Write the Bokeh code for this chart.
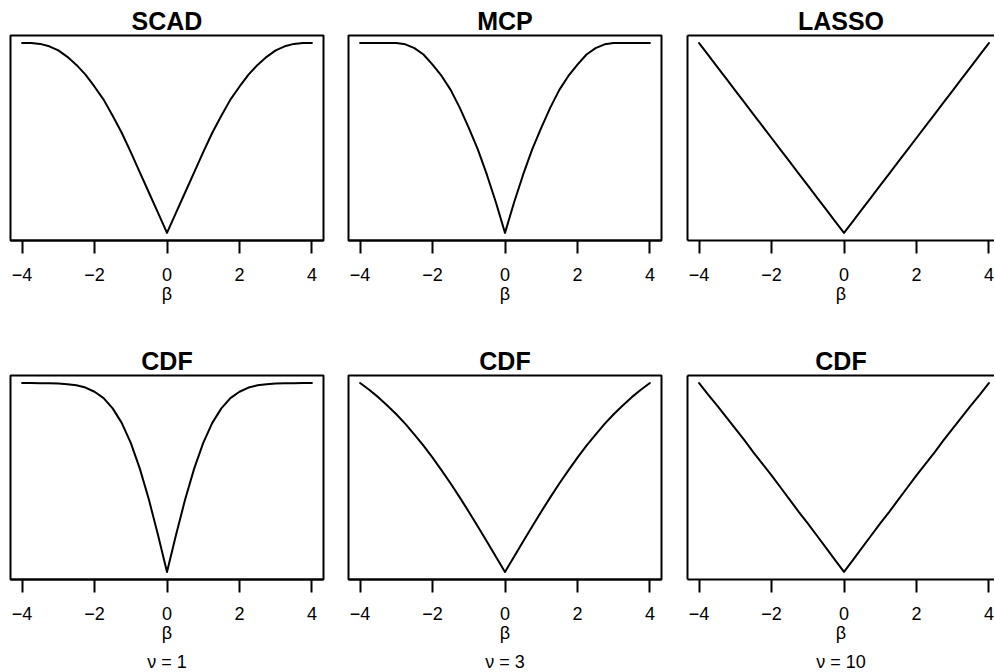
from bokeh.plotting import figure
from bokeh.layouts import gridplot
from bokeh.models import Range1d, FixedTicker, LinearAxis
from bokeh.embed import file_html
from bokeh.resources import INLINE

# ---- data ----
beta = [-4.0, -3.75, -3.5, -3.25, -3.0, -2.75, -2.5, -2.25, -2.0, -1.75, -1.5, -1.25,
        -1.0, -0.75, -0.5, -0.25, 0.0, 0.25, 0.5, 0.75, 1.0, 1.25, 1.5, 1.75,
        2.0, 2.25, 2.5, 2.75, 3.0, 3.25, 3.5, 3.75, 4.0]

scad = [2.35, 2.35, 2.34, 2.31, 2.26, 2.18, 2.08, 1.96, 1.81, 1.65, 1.45, 1.24,
        1.0, 0.75, 0.5, 0.25, 0.0, 0.25, 0.5, 0.75, 1.0, 1.24, 1.45, 1.65,
        1.81, 1.96, 2.08, 2.18, 2.26, 2.31, 2.34, 2.35, 2.35]

mcp = [1.5, 1.5, 1.5, 1.5, 1.5, 1.49, 1.46, 1.41, 1.33, 1.24, 1.13, 0.99,
       0.83, 0.66, 0.46, 0.24, 0.0, 0.24, 0.46, 0.66, 0.83, 0.99, 1.13, 1.24,
       1.33, 1.41, 1.46, 1.49, 1.5, 1.5, 1.5, 1.5, 1.5]

lasso = [4.0, 3.75, 3.5, 3.25, 3.0, 2.75, 2.5, 2.25, 2.0, 1.75, 1.5, 1.25,
         1.0, 0.75, 0.5, 0.25, 0.0, 0.25, 0.5, 0.75, 1.0, 1.25, 1.5, 1.75,
         2.0, 2.25, 2.5, 2.75, 3.0, 3.25, 3.5, 3.75, 4.0]

cdf_nu1 = [0.9999, 0.9998, 0.9995, 0.999, 0.997, 0.994, 0.988, 0.976, 0.954, 0.920, 0.866, 0.789,
           0.683, 0.547, 0.383, 0.197, 0.0, 0.197, 0.383, 0.547, 0.683, 0.789, 0.866, 0.920,
           0.954, 0.976, 0.988, 0.994, 0.997, 0.999, 0.9995, 0.9998, 0.9999]

cdf_nu3 = [0.818, 0.789, 0.757, 0.721, 0.683, 0.641, 0.595, 0.547, 0.495, 0.440, 0.383, 0.323,
           0.261, 0.197, 0.132, 0.066, 0.0, 0.066, 0.132, 0.197, 0.261, 0.323, 0.383, 0.440,
           0.495, 0.547, 0.595, 0.641, 0.683, 0.721, 0.757, 0.789, 0.818]

cdf_nu10 = [0.311, 0.292, 0.274, 0.255, 0.236, 0.217, 0.197, 0.178, 0.159, 0.139, 0.119, 0.099,
            0.080, 0.060, 0.040, 0.020, 0.0, 0.020, 0.040, 0.060, 0.080, 0.099, 0.119, 0.139,
            0.159, 0.178, 0.197, 0.217, 0.236, 0.255, 0.274, 0.292, 0.311]

titles = ["SCAD", "MCP", "LASSO", "CDF", "CDF", "CDF"]
sub_labels = [None, None, None, "ν = 1", "ν = 3", "ν = 10"]
series = [scad, mcp, lasso, cdf_nu1, cdf_nu3, cdf_nu10]
tick_values = [-4, -2, 0, 2, 4]
tick_labels = ["\u22124", "\u22122", "0", "2", "4"]
x_label = "β"

FONT = "Liberation Sans"
TICK_FS = "18px"
TITLE_FS = "25px"


def bare_axis(**kw):
    return LinearAxis(ticker=FixedTicker(ticks=[], minor_ticks=[]),
                      major_tick_out=0, major_tick_in=0,
                      minor_tick_out=0, minor_tick_in=0,
                      major_label_standoff=0,
                      major_label_text_font_size="0px", **kw)


def make_panel(i):
    col = i % 3
    row = i // 3
    y = series[i]
    ymin, ymax = min(y), max(y)
    pad = 0.04 * (ymax - ymin)
    xmin, xmax = min(beta), max(beta)
    xpad = 0.04 * (xmax - xmin)

    full_w = 313
    if col < 2:
        fw = full_w
        mbl, mbr = 10, 15
    else:
        fw = 307
        mbl, mbr = 11, 0
    x_start = xmin - xpad
    x_end = x_start + (xmax - xmin + 2 * xpad) * fw / full_w

    p = figure(frame_width=fw, frame_height=205 if row == 0 else 204,
               x_range=Range1d(x_start, x_end),
               y_range=Range1d(ymin - pad, ymax + pad),
               output_backend="svg", toolbar_location=None,
               y_axis_location=None,
               min_border_left=mbl, min_border_right=mbr,
               min_border_top=35,
               min_border_bottom=100 if row == 0 else 93)
    p.background_fill_color = "white"
    p.border_fill_color = "white"
    p.xgrid.grid_line_color = None
    p.ygrid.grid_line_color = None

    xa = p.below[0]
    xa.ticker = FixedTicker(ticks=tick_values, minor_ticks=[])
    xa.major_label_overrides = {v: s for v, s in zip(tick_values, tick_labels)}
    xa.axis_line_width = 2
    xa.axis_line_color = "black"
    xa.major_tick_out = 13
    xa.major_tick_in = 0
    xa.major_tick_line_width = 2
    xa.major_tick_line_color = "black"
    xa.minor_tick_out = 0
    xa.minor_tick_in = 0
    xa.major_label_text_font = FONT
    xa.major_label_text_font_size = TICK_FS
    xa.major_label_text_color = "black"
    xa.major_label_standoff = 14
    xa.axis_label = x_label
    xa.axis_label_text_font = FONT
    xa.axis_label_text_font_size = TICK_FS
    xa.axis_label_text_font_style = "normal"
    xa.axis_label_text_color = "black"
    xa.axis_label_standoff = 0

    if col < 2:
        p.outline_line_color = "black"
        p.outline_line_width = 2
    else:
        p.outline_line_color = None
        for loc in ("left", "above"):
            p.add_layout(bare_axis(axis_line_width=2, axis_line_color="black"), loc)

    p.title.text = titles[i]
    p.title.text_font = FONT
    p.title.text_font_size = TITLE_FS
    p.title.text_font_style = "bold"
    p.title.align = "center"
    p.title.standoff = 1
    p.title.text_color = "black"

    if sub_labels[i]:
        sub = bare_axis(axis_line_color=None,
                        axis_label=sub_labels[i],
                        axis_label_text_font=FONT,
                        axis_label_text_font_size=TICK_FS,
                        axis_label_text_font_style="normal",
                        axis_label_text_color="black",
                        axis_label_standoff=6)
        p.add_layout(sub, "below")

    p.line(beta, y, line_width=2, line_color="black", line_join="round", line_cap="round")
    return p


panels = [make_panel(i) for i in range(6)]
grid = gridplot([panels[0:3], panels[3:6]], toolbar_location=None)

open("out.html", "w").write(file_html(grid, INLINE))
